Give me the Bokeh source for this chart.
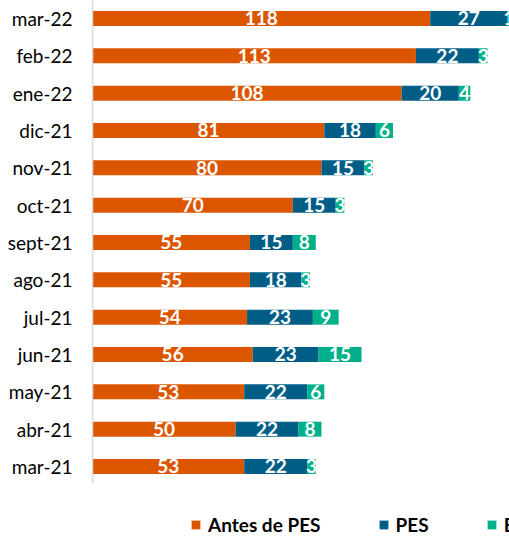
from bokeh.plotting import figure
from bokeh.models import ColumnDataSource, Legend, LegendItem, FixedTicker, Range1d
from bokeh.core.properties import value
from bokeh.embed import file_html
from bokeh.resources import INLINE

months = ["mar-22", "feb-22", "ene-22", "dic-21", "nov-21", "oct-21", "sept-21",
          "ago-21", "jul-21", "jun-21", "may-21", "abr-21", "mar-21"]
antes = [118, 113, 108, 81, 80, 70, 55, 55, 54, 56, 53, 50, 53]
pes = [27, 22, 20, 18, 15, 15, 15, 18, 23, 23, 22, 22, 22]
tercero = [1, 3, 4, 6, 3, 3, 8, 3, 9, 15, 6, 8, 3]
series_names = ["Antes de PES", "PES", "Egresados"]
colors = ["#DC5600", "#005E86", "#00B08A"]

n = len(months)
ypos = [n - 1 - i for i in range(n)]

FONT = "Lato"

p = figure(width=509, height=536, output_backend="svg", toolbar_location=None,
           x_range=Range1d(0, 145.7), y_range=Range1d(-1.875, 12.482),
           min_border_left=92, min_border_right=0, min_border_top=0, min_border_bottom=0)
p.outline_line_color = None
p.xgrid.visible = False
p.ygrid.visible = False
p.xaxis.visible = False

left = [0] * n
renderers = []
for name, vals, col in zip(series_names, [antes, pes, tercero], colors):
    right = [l + v for l, v in zip(left, vals)]
    mid = [(l + r) / 2 for l, r in zip(left, right)]
    src = ColumnDataSource(dict(y=ypos, left=left, right=right, mid=mid,
                                lab=[str(v) for v in vals]))
    r = p.hbar(y="y", left="left", right="right", height=0.4, source=src,
               fill_color=col, line_color=None)
    renderers.append((name, r))
    p.text(x="mid", y="y", text="lab", source=src, text_color="white",
           text_font=value(FONT), text_font_style="bold", text_font_size="19px",
           text_align="center", text_baseline="middle")
    left = right

p.yaxis.ticker = FixedTicker(ticks=ypos)
p.yaxis.major_label_overrides = {y: m for y, m in zip(ypos, months)}
p.yaxis.bounds = (-0.455, 12.482)
p.yaxis.major_tick_line_color = None
p.yaxis.major_tick_out = 0
p.yaxis.major_tick_in = 0
p.yaxis.minor_tick_line_color = None
p.yaxis.axis_line_color = "#D9D9D9"
p.yaxis.axis_line_width = 1.5
p.yaxis.major_label_text_font = FONT
p.yaxis.major_label_text_font_size = "19px"
p.yaxis.major_label_text_font_style = "normal"
p.yaxis.major_label_text_color = "#000000"
p.yaxis.major_label_standoff = 20

legend = Legend(items=[LegendItem(label=nm, renderers=[r]) for nm, r in renderers],
                orientation="horizontal", location=(98, 0),
                glyph_width=11, glyph_height=11, label_standoff=7, spacing=57,
                label_text_font=FONT, label_text_font_style="bold",
                label_text_font_size="19px", label_text_color="#000000",
                border_line_color=None,
                background_fill_alpha=0, padding=0, margin=0)
p.add_layout(legend, "center")

open("out.html", "w").write(file_html(p, INLINE))
